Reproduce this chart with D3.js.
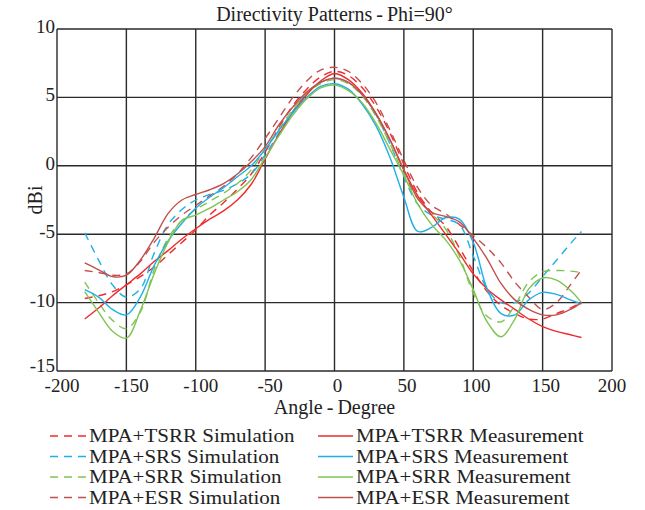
<!DOCTYPE html>
<html>
<head>
<meta charset="utf-8">
<script src="https://cdn.jsdelivr.net/npm/d3@7"></script>
<style>
  body { margin: 0; background: #fff; }
  text { font-family: 'Liberation Serif', 'DejaVu Serif', serif; fill: #222; }
</style>
</head>
<body>
<div id="chart"></div>
<script>
const angles = [-180, -170, -160, -150, -140, -130, -120, -110, -100, -90, -80, -70, -60, -50, -40, -30, -20, -10,
  0, 10, 20, 30, 40, 50, 60, 70, 80, 90, 100, 110, 120, 130, 140, 150, 160, 170, 178]

const tsrrSim = [-9.7, -9.5, -9.2, -8.7, -8.1, -7.4, -6.5, -5.6, -4.7, -3.6, -2.7, -1.7, -0.6, 1.0, 2.8, 4.4, 5.6, 6.5,
  6.9, 6.6, 5.7, 4.3, 2.4, 0.1, -2.0, -3.4, -4.4, -6.0, -7.7, -9.2, -10.2, -10.8, -11.2, -11.2, -10.8, -10.4, -10.0]
const tsrrMeas = [-11.2, -10.4, -9.5, -8.7, -7.9, -7.0, -6.2, -5.35, -4.6, -3.9, -3.3, -2.5, -1.35, 0.5, 2.3, 3.9, 5.2, 6.2,
  6.75, 6.3, 5.3, 3.8, 1.9, -0.3, -2.2, -3.6, -5.0, -6.4, -7.9, -9.0, -9.8, -10.5, -11.2, -11.75, -12.1, -12.35, -12.55]
const srsSim = [-4.9, -6.9, -8.7, -9.6, -9.0, -6.4, -4.3, -3.2, -2.5, -2.1, -1.8, -1.3, -0.6, 0.8, 2.4, 4.0, 5.3, 6.1,
  6.4, 6.1, 5.2, 3.7, 1.6, -0.8, -2.8, -3.6, -3.9, -4.3, -6.6, -9.0, -10.0, -10.0, -9.3, -8.1, -6.9, -5.7, -4.8]
const srsMeas = [-9.05, -9.6, -10.5, -10.9, -9.6, -7.3, -5.5, -4.2, -3.1, -2.3, -1.6, -0.8, 0.0, 1.2, 2.6, 3.9, 5.0, 5.8,
  6.0, 5.6, 4.5, 2.9, 0.6, -2.3, -4.8, -4.5, -3.8, -3.9, -5.6, -9.0, -10.8, -10.9, -9.8, -9.25, -9.4, -9.8, -10.1]
const srrSim = [-8.5, -10.0, -11.3, -11.9, -10.7, -7.6, -5.3, -4.0, -3.2, -2.6, -2.0, -1.3, -0.3, 1.2, 2.7, 4.1, 5.3, 6.0,
  6.3, 6.0, 5.1, 3.6, 1.6, -0.6, -2.4, -3.5, -4.6, -6.6, -9.3, -11.0, -11.4, -10.2, -8.5, -7.75, -7.65, -7.7, -7.8]
const srrMeas = [-9.2, -10.7, -12.1, -12.6, -10.6, -7.9, -5.6, -4.0, -3.6, -3.1, -2.5, -1.9, -1.0, 0.6, 2.2, 3.7, 4.9, 5.7,
  5.9, 5.5, 4.6, 3.1, 1.2, -0.7, -2.8, -4.3, -5.4, -6.9, -9.05, -11.4, -12.5, -11.2, -9.0, -8.2, -8.35, -9.1, -10.0]
const esrSim = [-7.65, -7.8, -8.0, -7.9, -7.0, -5.6, -4.5, -3.6, -2.9, -2.2, -1.5, -0.6, 0.6, 2.0, 3.5, 5.0, 6.2, 7.0,
  7.2, 6.9, 6.0, 4.6, 2.6, 0.4, -1.6, -2.9, -3.5, -4.3, -5.1, -6.0, -7.1, -8.5, -9.6, -10.5, -10.0, -8.7, -7.6]
const esrMeas = [-7.1, -7.6, -8.1, -8.0, -6.9, -5.3, -3.5, -2.5, -2.1, -1.75, -1.3, -0.6, 0.3, 1.4, 3.0, 4.3, 5.4, 6.1,
  6.4, 6.1, 5.2, 3.8, 1.9, -0.3, -2.4, -3.4, -3.7, -4.1, -5.3, -6.8, -8.6, -9.8, -10.5, -10.9, -10.9, -10.5, -10.0]

const seriesNames = ['MPA+TSRR', 'MPA+SRS', 'MPA+SRR', 'MPA+ESR']
const seriesColors = ['#ef2b2b', '#1eb0e6', '#7fc453', '#c0504d']
const simValues = [tsrrSim, srsSim, srrSim, esrSim]
const measValues = [tsrrMeas, srsMeas, srrMeas, esrMeas]

const xTicks = [-200, -150, -100, -50, 0, 50, 100, 150, 200]
const yTicks = [-15, -10, -5, 0, 5, 10]

const width = 645
const height = 510
const margin = { top: 29, right: 33, bottom: 139, left: 57 }

const svg = d3.select('#chart')
  .append('svg')
  .attr('width', width)
  .attr('height', height)

const x = d3.scaleLinear()
  .domain([-200, 200])
  .range([margin.left, width - margin.right])
const y = d3.scaleLinear()
  .domain([-15, 10])
  .range([height - margin.bottom, margin.top])

// grid
svg.append('g')
  .selectAll('line.vgrid')
  .data(xTicks)
  .enter()
  .append('line')
  .attr('class', 'vgrid')
  .attr('x1', d => x(d))
  .attr('x2', d => x(d))
  .attr('y1', y(-15))
  .attr('y2', y(10))
  .attr('stroke', '#2a2a2a')
  .attr('stroke-width', 1.4)

svg.append('g')
  .selectAll('line.hgrid')
  .data(yTicks)
  .enter()
  .append('line')
  .attr('class', 'hgrid')
  .attr('x1', x(-200))
  .attr('x2', x(200))
  .attr('y1', d => y(d))
  .attr('y2', d => y(d))
  .attr('stroke', '#2a2a2a')
  .attr('stroke-width', 1.4)

// tick labels
svg.append('g')
  .selectAll('text')
  .data(xTicks)
  .enter()
  .append('text')
  .attr('x', d => x(d) + (d < 0 ? 5 : d < 200 ? 3 : 0))
  .attr('y', y(-15) + 21)
  .attr('text-anchor', 'middle')
  .attr('font-size', '19px')
  .text(d => d)

svg.append('g')
  .selectAll('text')
  .data(yTicks)
  .enter()
  .append('text')
  .attr('x', x(-200) - 2)
  .attr('y', d => y(d) + (d === -15 ? 1 : 4))
  .attr('text-anchor', 'end')
  .attr('font-size', '19px')
  .text(d => d)

// titles
svg.append('text')
  .attr('x', x(0))
  .attr('y', 21)
  .attr('text-anchor', 'middle')
  .attr('font-size', '20px')
  .text('Directivity Patterns\u2009-\u2009Phi=90°')

svg.append('text')
  .attr('x', x(0))
  .attr('y', 414)
  .attr('text-anchor', 'middle')
  .attr('font-size', '20px')
  .text('Angle\u2009-\u2009Degree')

svg.append('text')
  .attr('transform', `translate(42, ${y(-2.5)}) rotate(-90)`)
  .attr('text-anchor', 'middle')
  .attr('font-size', '20px')
  .text('dBi')

// curves
const line = d3.line()
  .x((d, i) => x(angles[i]))
  .y(d => y(d))
  .curve(d3.curveCatmullRom.alpha(0.5))

const plot = svg.append('g')

simValues.forEach((vals, i) => {
  plot.append('path')
    .attr('d', line(vals))
    .attr('fill', 'none')
    .attr('stroke', seriesColors[i])
    .attr('stroke-width', 1.4)
    .attr('stroke-dasharray', '8,6')
})

measValues.forEach((vals, i) => {
  plot.append('path')
    .attr('d', line(vals))
    .attr('fill', 'none')
    .attr('stroke', seriesColors[i])
    .attr('stroke-width', 1.4)
})

// legend
const legend = svg.append('g')
const rowY = i => 436 + i * 20.5

// the source font is wider than Liberation Serif: measure at 21px, draw at 18px stretched to that width
function legendText(tx, ty, label) {
  const node = legend.append('text')
    .attr('x', tx)
    .attr('y', ty)
    .attr('font-size', '21px')
    .text(label)
  const w = node.node().getComputedTextLength()
  node
    .attr('font-size', '18px')
    .attr('textLength', w)
    .attr('lengthAdjust', 'spacingAndGlyphs')
}

seriesNames.forEach((name, i) => {
  legend.append('line')
    .attr('x1', 50)
    .attr('x2', 86)
    .attr('y1', rowY(i))
    .attr('y2', rowY(i))
    .attr('stroke', seriesColors[i])
    .attr('stroke-width', 1.4)
    .attr('stroke-dasharray', '8,6')
  legendText(89, rowY(i) + 6, `${name} Simulation`)

  legend.append('line')
    .attr('x1', 318)
    .attr('x2', 353)
    .attr('y1', rowY(i))
    .attr('y2', rowY(i))
    .attr('stroke', seriesColors[i])
    .attr('stroke-width', 1.4)
  legendText(356, rowY(i) + 6, `${name} Measurement`)
})
</script>
</body>
</html>
